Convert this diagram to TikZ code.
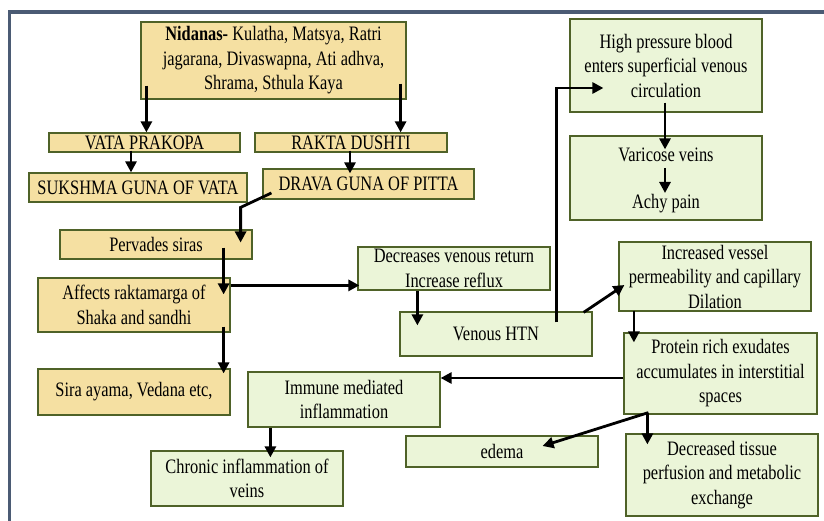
\documentclass[tikz,border=0pt]{standalone}
\usepackage{fontspec}
\setmainfont{Liberation Serif}[FakeStretch=0.8]
\usetikzlibrary{arrows.meta,calc}

\definecolor{tanfill}{RGB}{245,224,162}
\definecolor{greenfill}{RGB}{235,245,216}
\definecolor{boxline}{RGB}{79,98,40}
\definecolor{frameline}{RGB}{75,91,116}

\begin{document}
\begin{tikzpicture}[x=1pt,y=-1pt]
\tikzset{box/.style = {shape=rectangle,draw=boxline,line width=1.2pt,inner sep=1pt,align=center,
  font=\fontsize{20.5}{24.5}\selectfont}}
\tikzset{tanbox/.style = {box,fill=tanfill}}
\tikzset{greenbox/.style = {box,fill=greenfill}}
\tikzset{edge/.style = {-{Triangle[length=11pt,width=11pt]},line width=2.8pt}}
\clip (0,0) rectangle (824,521);
\fill[white] (0,0) rectangle (824,521);
\draw[frameline,line width=3.5pt] (9.5,12) rectangle (840,540);

%nodes
% ----- nidanas side
\node[tanbox,minimum width=265,minimum height=77] (nid) at (273.5,60.5)
  {\textbf{Nidanas-} Kulatha, Matsya, Ratri\\jagarana, Divaswapna, Ati adhva,\\Shrama, Sthula Kaya};
\node[tanbox,minimum width=191,minimum height=19,inner sep=0pt] (vata) at (144.5,142.5) {VATA PRAKOPA};
\node[tanbox,minimum width=192,minimum height=19,inner sep=0pt] (rakta) at (351,142.5) {RAKTA DUSHTI};
\node[tanbox,minimum width=218,minimum height=29] (suk) at (138,187.5) {SUKSHMA GUNA OF VATA};
\node[tanbox,minimum width=211,minimum height=30] (drava) at (368.5,184) {DRAVA GUNA OF PITTA};
\node[tanbox,minimum width=192,minimum height=29] (perv) at (156,244.5) {Pervades siras};
\node[tanbox,minimum width=192,minimum height=54] (aff) at (134,305) {Affects raktamarga of\\Shaka and sandhi};
\node[tanbox,minimum width=192,minimum height=46] (sira) at (134,392) {Sira ayama, Vedana etc,};

% ----- venous side
\node[greenbox,minimum width=192,minimum height=43] (dec) at (454,268.5) {Decreases venous return\\Increase reflux};
\node[greenbox,minimum width=192,minimum height=44] (htn) at (496,334) {Venous HTN};
\node[greenbox,minimum width=192,minimum height=93] (high) at (666,65.5) {High pressure blood\\enters superficial venous\\circulation};
\node[greenbox,minimum width=192,minimum height=84] (vari) at (666,178) {};
\node[font=\fontsize{20.5}{24.5}\selectfont,inner sep=1pt] (vv) at (666,155) {Varicose veins};
\node[font=\fontsize{20.5}{24.5}\selectfont,inner sep=1pt] (achy) at (666,204) {Achy pain};
\node[greenbox,minimum width=192,minimum height=69] (inc) at (715,276.5) {Increased vessel\\permeability and capillary\\Dilation};
\node[greenbox,minimum width=193,minimum height=81] (prot) at (720.5,373.5) {Protein rich exudates\\accumulates in interstitial\\spaces};
\node[greenbox,minimum width=192,minimum height=55] (imm) at (344,399.5) {Immune mediated\\inflammation};
\node[greenbox,minimum width=192,minimum height=55] (chr) at (247,478.5) {Chronic inflammation of\\veins};
\node[greenbox,minimum width=192,minimum height=31] (edema) at (502,451.5) {edema};
\node[greenbox,minimum width=192,minimum height=82] (decr) at (722,475) {Decreased tissue\\perfusion and metabolic\\exchange};

%edges
\draw[edge] ($(nid.south west)+(6,-14)$) -- ($(nid.south west |- vata.north)+(6,0)$);
\draw[edge] ($(nid.south east)+(-6,-16)$) -- ($(nid.south east |- rakta.north)+(-6,0)$);
\draw[edge] ($(vata.south)+(-13.5,-2)$) -- ($(vata.south |- suk.north)+(-13.5,0)$);
\draw[edge] ($(rakta.south)+(-1,-2)$) -- ($(rakta.south |- drava.north)+(-1,5)$);
\draw[edge] ($(drava.west)+(9,9)$) -- ($(perv.north east)+(-12,-22)$) -- ($(perv.east)+(-12,-2)$);
\draw[edge] ($(perv.south east)+(-29,-12)$) -- ($(perv.south east |- aff.north)+(-29,17)$);
\draw[edge] ($(aff.south east)+(-7,-6)$) -- ($(aff.south east |- sira.north)+(-7,5)$);
\draw[edge] ($(aff.north east)+(0,8)$) -- ($(aff.north east -| dec.west)+(2,8)$);

%---- venous
\draw[edge] ($(dec.south west)+(60,0)$) -- ($(dec.south west |- htn.north)+(60,14)$);
\draw[edge] ($(htn.north east)+(-36,11)$) |- ($(high.west)+(34,22.5)$);
\draw[edge] ($(high.south)+(-1,-10)$) -- ($(vari.north)+(-1,14)$);
\draw[edge] ($(vv.center)+(-1,13)$) -- ($(achy.center)+(-1,-11)$);
\draw[edge] ($(htn.north east)+(-9,1)$) -- ($(inc.west)+(6,8.5)$);
\draw[edge] ($(inc.south west)+(15.5,-1)$) -- ($(inc.south west |- prot.north)+(15.5,10)$);
\draw[edge] ($(prot.west)+(0,4.5)$) -- ($(prot.west -| imm.east)+(0,4.5)$);
\draw[edge] ($(prot.south west)+(25,-2)$) -- ($(edema.east)+(-56,-5.5)$);
\draw[edge] ($(prot.south west)+(24,-2)$) -- ($(prot.south west |- decr.north)+(24,11)$);
\draw[edge] ($(imm.south west)+(23,0)$) -- ($(imm.south west |- chr.north)+(23,7)$);
\end{tikzpicture}
\end{document}
